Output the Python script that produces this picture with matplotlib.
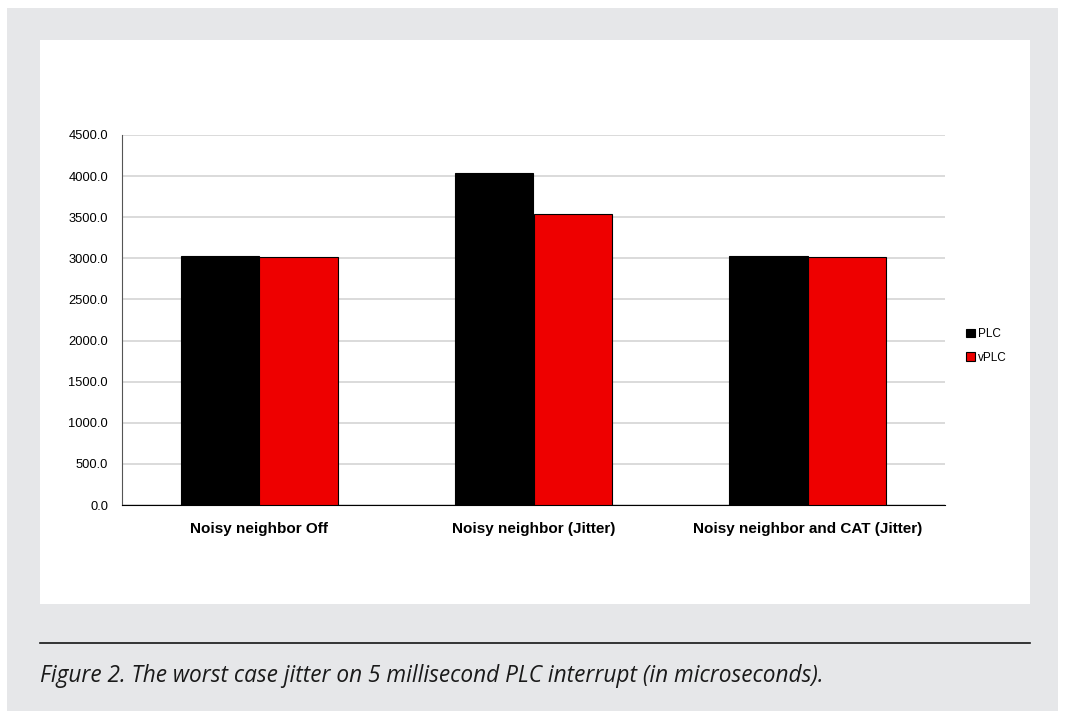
import numpy as np
import matplotlib.pyplot as plt
from matplotlib.patches import Rectangle
from matplotlib.lines import Line2D

# worst case jitter per scenario (microseconds)
categories = ['Noisy neighbor Off', 'Noisy neighbor (Jitter)', 'Noisy neighbor and CAT (Jitter)']
plc = [3030, 4035, 3032]
vplc = [3020, 3535, 3022]
yticks = np.arange(0, 4501, 500)

W, H = 1065, 711
fig = plt.figure(figsize=(W / 100, H / 100), dpi=100)
fig.patch.set_facecolor('white')

# grey card with white chart panel inside
fig.patches.append(Rectangle((7 / W, 0), 1051 / W, 703 / H, transform=fig.transFigure,
                             facecolor='#e6e7e9', edgecolor='none', zorder=-3))
fig.patches.append(Rectangle((40 / W, 1 - 604 / H), 990 / W, 564 / H, transform=fig.transFigure,
                             facecolor='white', edgecolor='none', zorder=-2))
fig.lines.append(Line2D([40 / W, 1030 / W], [1 - 643 / H] * 2, transform=fig.transFigure,
                        color='#151515', lw=1.2, zorder=-1))
fig.text(40 / W, 1 - 676 / H, 'Figure 2. The worst case jitter on 5 millisecond PLC interrupt (in microseconds).',
         family='Open Sans', style='italic', fontsize=16.25, color='#1a1a1a', va='center', ha='left')

ax = fig.add_axes([122 / W, 1 - 505 / H, 823 / W, 370 / H])
ax.set_facecolor('none')
x = np.arange(len(categories))
bw = 0.286
ax.bar(x - bw / 2, plc, bw, color='black', edgecolor='black', lw=0.8, label='PLC', zorder=3)
ax.bar(x + bw / 2, vplc, bw, color='#ee0000', edgecolor='black', lw=0.8, label='vPLC', zorder=3)

ax.set_xlim(-0.5, 2.5)
ax.set_ylim(0, 4500)
ax.set_yticks(yticks)
ax.set_yticklabels([f'{v:.1f}' for v in yticks], family='Liberation Sans', fontsize=9.3)
ax.yaxis.grid(True, color='#d4d4d4', lw=1.2, zorder=0)
ax.set_axisbelow(True)
ax.tick_params(axis='y', length=0, pad=10)
ax.tick_params(axis='x', length=0, pad=12.5)
ax.set_xticks(x)
ax.set_xticklabels(categories, family='Liberation Sans', fontsize=11, fontweight='bold')
for s in ['top', 'right']:
    ax.spines[s].set_visible(False)
ax.spines['left'].set_color('#555555')
ax.spines['bottom'].set_color('black')

leg = ax.legend(loc='center left', bbox_to_anchor=(1.013, 0.43), frameon=False,
                prop={'family': 'Liberation Sans', 'size': 8.5}, handlelength=0.7, handleheight=0.7,
                handletextpad=0.25, labelspacing=0.95)

fig.savefig('out.png', dpi=100)
